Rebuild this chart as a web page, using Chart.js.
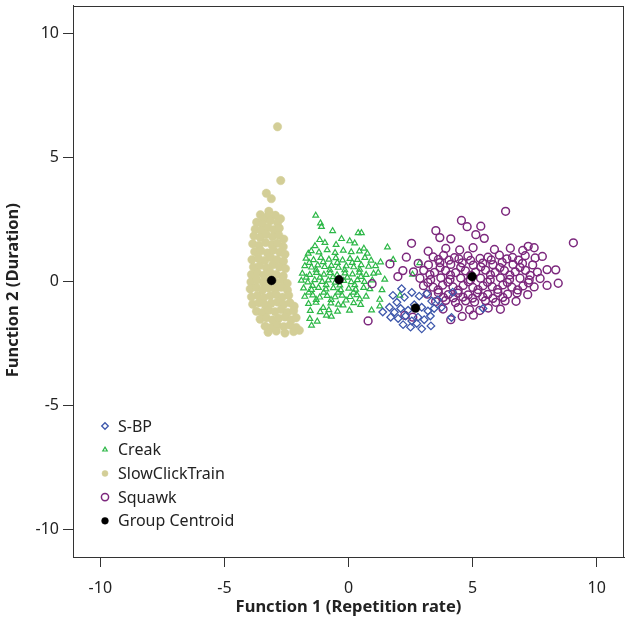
<!DOCTYPE html>
<html>
<head>
<meta charset="utf-8">
<title>Discriminant functions</title>
<script src="https://cdn.jsdelivr.net/npm/chart.js@4.4.0/dist/chart.umd.min.js"></script>
<style>
  html, body { margin: 0; padding: 0; background: #fff; }
  #wrap { width: 632px; height: 627px; }
</style>
</head>
<body>
<div id="wrap"><canvas id="scatter" width="632" height="627"></canvas></div>
<script>
// --- data (Function 1, Function 2) ---
const xTicks = [-10, -5, 0, 5, 10];
const yTicks = [-10, -5, 0, 5, 10];
const xTitle = 'Function 1 (Repetition rate)';
const yTitle = 'Function 2 (Duration)';

const sbpPoints = [
  [1.38,-1.24],[1.79,-0.57],[2.14,-0.30],[1.65,-1.05],[1.95,-0.85],[2.25,-0.65],[2.55,-0.45],[2.85,-0.60],
  [3.15,-0.50],[3.35,-0.80],[1.85,-1.25],[2.10,-1.10],[2.40,-1.17],[2.65,-0.95],[2.95,-1.05],[3.20,-1.20],
  [3.45,-1.10],[1.70,-1.45],[2.00,-1.50],[2.30,-1.40],[2.55,-1.60],[2.80,-1.45],[3.05,-1.55],[3.30,-1.40],
  [2.20,-1.75],[2.50,-1.85],[2.75,-1.70],[3.32,-1.80],[2.95,-1.92],[4.15,-1.46],[4.20,-0.44],[5.42,-1.10],
  [3.75,-1.05],[3.60,-0.75]
];

const creakPoints = [
  [-1.32,2.65],[-1.13,2.34],[-1.09,2.20],[-0.64,2.03],[0.39,1.95],[0.52,1.95],[-1.16,1.67],[-0.28,1.71],
  [0.25,1.53],[1.57,1.37],[-0.95,1.55],[-0.50,1.47],[0.05,1.62],[0.62,1.32],[-1.35,1.42],[-1.62,1.12],
  [-1.50,1.22],[-1.19,1.17],[-0.86,1.26],[-0.54,1.15],[-0.21,1.24],[0.11,1.18],[0.44,1.21],[0.76,1.12],
  [-1.71,0.92],[-1.41,0.86],[-1.11,0.95],[-0.79,0.88],[-0.51,0.94],[-0.24,0.85],[0.06,0.91],[0.36,0.87],
  [0.66,0.95],[0.91,0.84],
  [-1.76,0.62],[-1.49,0.56],[-1.24,0.65],[-0.96,0.58],[-0.69,0.63],[-0.41,0.55],[-0.09,0.61],[0.21,0.57],
  [0.51,0.66],[0.81,0.59],[1.09,0.62],
  [-1.86,0.31],[-1.56,0.26],[-1.29,0.34],[-0.99,0.27],[-0.74,0.33],[-0.46,0.25],[-0.14,0.32],[0.16,0.28],
  [0.44,0.35],[0.71,0.26],[1.01,0.31],
  [-1.90,0.03],[-1.64,-0.04],[-1.36,0.05],[-1.06,-0.02],[-0.81,0.04],[-0.54,-0.05],[-0.19,0.02],[0.11,-0.03],
  [0.36,0.05],[0.64,-0.02],[0.96,0.04],[1.46,0.07],
  [-1.81,-0.28],[-1.49,-0.34],[-1.21,-0.26],[-0.91,-0.32],[-0.61,-0.27],[-0.31,-0.35],[0.01,-0.29],[0.29,-0.33],
  [0.61,-0.26],[0.86,-0.31],
  [-1.76,-0.62],[-1.44,-0.56],[-1.16,-0.65],[-0.86,-0.58],[-0.54,-0.64],[-0.26,-0.57],[0.06,-0.63],[0.34,-0.55],
  [0.71,-0.61],[1.26,-0.74],
  [-1.61,-0.91],[-1.31,-0.86],[-1.02,-1.07],[-0.71,-0.89],[-0.41,-0.94],[-0.22,-0.97],[0.21,-0.88],[0.49,-0.95],
  [0.93,-1.17],
  [-1.54,-1.19],[-1.14,-1.24],[-0.79,-1.16],[-0.44,-1.22],[0.04,-1.18],
  [-1.56,-1.51],[-0.89,-1.38],[-0.69,-1.42],[-1.49,-1.78],[-1.26,-1.62],
  [1.80,0.87],[2.87,0.74],[2.58,0.27],[2.07,-0.57],[1.26,-1.01],[1.29,0.77],[1.20,0.35],[1.35,-0.35],
  [-1.58,0.75],[-1.30,0.45],[-1.02,0.78],[-0.75,0.45],[-0.45,0.75],[-0.15,0.45],[0.15,0.75],[0.45,0.47],
  [-1.70,0.15],[-1.45,-0.18],[-1.15,0.15],[-0.90,-0.15],[-0.62,0.17],[-0.35,-0.16],[-0.05,0.15],[0.25,-0.15],
  [0.50,0.18],[-1.60,-0.45],[-1.30,-0.75],[-1.00,-0.45],[-0.70,-0.75],[-0.42,-0.45],[-0.10,-0.77],[0.20,-0.45],
  [0.45,-0.72]
];

const slowClickPoints = [
  [-2.86,6.23],[-2.73,4.06],[-3.31,3.55],[-3.11,3.33],[-3.21,2.82],
  [-3.55,2.68],[-3.25,2.62],[-2.95,2.66],[-3.42,2.48],
  [-3.70,2.38],[-3.47,2.30],[-3.15,2.44],[-2.86,2.36],[-2.74,2.52],
  [-3.76,2.10],[-3.52,2.04],[-3.24,2.17],[-3.01,2.08],[-2.79,2.14],
  [-3.81,1.83],[-3.56,1.76],[-3.31,1.89],[-3.06,1.79],[-2.81,1.86],[-2.61,1.70],
  [-3.86,1.51],[-3.61,1.44],[-3.34,1.56],[-3.09,1.47],[-2.86,1.53],[-2.63,1.39],
  [-3.78,1.19],[-3.53,1.23],[-3.27,1.14],[-3.03,1.26],[-2.77,1.17],[-2.56,1.09],
  [-3.89,0.87],[-3.63,0.93],[-3.37,0.84],[-3.13,0.96],[-2.88,0.87],[-2.62,0.81],
  [-3.83,0.57],[-3.58,0.63],[-3.31,0.54],[-3.06,0.66],[-2.79,0.57],[-2.54,0.51],
  [-3.91,0.27],[-3.66,0.33],[-3.41,0.24],[-3.16,0.36],[-2.91,0.27],[-2.63,0.21],
  [-3.93,-0.03],[-3.69,0.05],[-3.43,-0.06],[-3.19,0.03],[-2.93,-0.05],[-2.66,0.06],[-2.47,-0.09],
  [-3.96,-0.31],[-3.71,-0.25],[-3.46,-0.35],[-3.21,-0.27],[-2.96,-0.33],[-2.71,-0.24],[-2.46,-0.36],
  [-3.91,-0.63],[-3.67,-0.57],[-3.41,-0.66],[-3.16,-0.59],[-2.91,-0.54],[-2.66,-0.64],[-2.41,-0.57],
  [-3.86,-0.93],[-3.61,-0.87],[-3.36,-0.96],[-3.11,-0.89],[-2.86,-0.84],[-2.61,-0.94],[-2.36,-0.87],[-2.19,-1.01],
  [-3.71,-1.21],[-3.46,-1.26],[-3.21,-1.17],[-2.96,-1.23],[-2.71,-1.14],[-2.46,-1.26],[-2.21,-1.19],
  [-3.56,-1.53],[-3.31,-1.47],[-3.06,-1.56],[-2.81,-1.49],[-2.56,-1.44],[-2.31,-1.56],[-2.11,-1.47],
  [-3.36,-1.81],[-3.11,-1.86],[-2.86,-1.77],[-2.61,-1.83],[-2.36,-1.77],[-2.11,-1.86],
  [-3.24,-2.06],[-2.91,-2.01],[-2.56,-2.09],[-2.21,-2.03],[-1.98,-1.98]
];

const squawkPoints = [
  [6.33,2.82],[4.55,2.45],[4.78,2.20],[5.33,2.22],[5.13,1.88],[5.47,1.73],[9.06,1.55],[7.24,1.41],
  [7.48,1.35],[7.81,1.00],[8.00,0.47],[8.35,0.46],[8.45,-0.08],[8.00,-0.17],[6.75,-0.81],[5.29,-1.18],
  [4.12,1.71],[3.52,2.04],[3.68,1.76],[2.54,1.53],[3.21,1.21],[2.19,0.43],[1.99,0.19],[0.95,-0.10],
  [0.79,-1.60],[2.33,0.97],[1.67,0.70],[2.27,-1.38],[2.59,-1.45],
  [3.92,1.32],[4.48,1.26],[5.02,1.35],[5.88,1.28],[6.52,1.33],[7.02,1.24],
  [3.41,0.98],[3.83,1.04],[4.27,0.95],[4.81,1.02],[5.62,0.97],[6.08,1.05],[6.61,0.96],[7.12,1.03],[7.52,0.94],
  [2.81,0.72],[3.22,0.66],[3.68,0.75],[4.12,0.68],[4.58,0.74],[5.03,0.65],[5.41,0.73],[5.82,0.67],
  [6.19,0.76],[6.63,0.68],[7.01,0.72],[7.42,0.66],
  [2.62,0.38],[3.03,0.44],[3.47,0.36],[3.91,0.43],[4.32,0.35],[4.71,0.42],[5.12,0.37],[5.52,0.45],
  [5.91,0.36],[6.28,0.43],[6.72,0.38],[7.13,0.44],[7.61,0.37],
  [2.88,0.12],[3.31,0.06],[3.72,0.14],[4.09,0.07],[4.52,0.13],[4.91,0.05],[5.32,0.12],[5.71,0.06],
  [6.12,0.14],[6.49,0.07],[6.91,0.12],[7.28,0.05],[7.72,0.11],
  [3.02,-0.18],[3.41,-0.24],[3.79,-0.16],[4.21,-0.23],[4.62,-0.17],[5.01,-0.25],[5.42,-0.18],[5.79,-0.22],
  [6.22,-0.15],[6.58,-0.24],[7.03,-0.19],[7.48,-0.23],
  [3.18,-0.52],[3.62,-0.46],[4.02,-0.54],[4.41,-0.48],[4.82,-0.55],[5.19,-0.47],[5.61,-0.53],[6.02,-0.46],
  [6.41,-0.52],[6.79,-0.47],[7.22,-0.54],
  [3.51,-0.82],[3.92,-0.77],[4.31,-0.86],[4.72,-0.79],[5.08,-0.84],[5.52,-0.78],[5.93,-0.85],[6.31,-0.79],
  [3.81,-1.12],[4.42,-1.06],[4.88,-1.15],[5.63,-1.08],[6.12,-1.13],
  [4.58,-1.42],[5.03,-1.37],[4.12,-1.55],
  [3.62,0.88],[4.05,0.85],[4.45,0.90],[4.92,0.84],[5.30,0.92],[5.75,0.86],[6.38,0.90],[6.85,0.85],
  [3.28,0.27],[3.69,0.55],[4.11,0.25],[4.52,0.56],[4.93,0.24],[5.33,0.58],[5.72,0.26],[6.10,0.55],
  [6.50,0.25],[6.91,0.56],[7.32,0.24],
  [3.20,-0.05],[3.61,-0.35],[4.01,-0.03],[4.42,-0.36],[4.83,-0.02],[5.22,-0.34],[5.60,-0.04],[6.01,-0.33],
  [6.40,-0.05],[6.82,-0.35],[7.25,-0.06],
  [3.82,-0.65],[4.22,-0.67],[4.61,-0.64],[5.00,-0.68],[5.41,-0.63],[5.82,-0.69],[6.22,-0.65]
];

// S-BP, Creak, SlowClickTrain, Squawk
const centroidPoints = [[2.70,-1.08],[-0.38,0.06],[-3.10,0.03],[4.98,0.19]];

// --- theme ---
const FONT = '"Noto Sans", sans-serif';
const AXIS = '#333';
const TEXT = '#222';
const toXY = arr => arr.map(([x, y]) => ({ x, y }));

// legend drawn inside the plot, lower left (like the SPSS output)
const insideLegend = {
  id: 'insideLegend',
  afterDraw(chart) {
    const { ctx, chartArea } = chart;
    const mx = chartArea.left + 32;
    const tx = chartArea.left + 45;
    const y0 = chartArea.bottom - 131;
    const sizes = [3.3, 2.6, 3.0, 3.6, 3.4];
    ctx.save();
    ctx.font = '16px ' + FONT;
    ctx.textBaseline = 'middle';
    ctx.textAlign = 'left';
    chart.data.datasets.forEach((ds, i) => {
      const y = y0 + i * 23.7;
      ctx.fillStyle = ds.backgroundColor;
      ctx.strokeStyle = ds.borderColor;
      ctx.lineWidth = ds.borderWidth;
      Chart.helpers.drawPoint(ctx, { pointStyle: ds.pointStyle, radius: sizes[i], borderWidth: ds.borderWidth, rotation: 0 }, mx, y);
      ctx.fillStyle = TEXT;
      ctx.fillText(ds.label, tx, y + 1);
    });
    ctx.restore();
  }
};

// full box around the plot area + the two axis titles
const frame = {
  id: 'frame',
  afterDraw(chart) {
    const { ctx, chartArea: a } = chart;
    ctx.save();
    ctx.strokeStyle = AXIS;
    ctx.lineWidth = 1;
    ctx.strokeRect(Math.round(a.left) + 0.5, Math.round(a.top) + 0.5,
      Math.round(a.right - a.left) - 1, Math.round(a.bottom - a.top) - 1);
    ctx.font = 'bold 16.5px ' + FONT;
    ctx.fillStyle = TEXT;
    ctx.textAlign = 'center';
    ctx.textBaseline = 'middle';
    ctx.fillText(xTitle, (a.left + a.right) / 2, a.bottom + 50);
    ctx.translate(13, (a.top + a.bottom) / 2 + 9);
    ctx.rotate(-Math.PI / 2);
    ctx.fillText(yTitle, 0, 0);
    ctx.restore();
  }
};

new Chart(document.getElementById('scatter'), {
  type: 'scatter',
  data: {
    datasets: [
      { label: 'S-BP', data: toXY(sbpPoints), pointStyle: 'rectRot', pointRadius: 3.8,
        borderColor: '#3E58AC', backgroundColor: 'rgba(0,0,0,0)', borderWidth: 1.3, order: 2 },
      { label: 'Creak', data: toXY(creakPoints), pointStyle: 'triangle', pointRadius: 3.3,
        borderColor: '#2EB848', backgroundColor: 'rgba(0,0,0,0)', borderWidth: 1.2, order: 3 },
      { label: 'SlowClickTrain', data: toXY(slowClickPoints), pointStyle: 'circle', pointRadius: 4.2,
        borderColor: '#D3CE97', backgroundColor: '#D3CE97', borderWidth: 0.5, order: 3 },
      { label: 'Squawk', data: toXY(squawkPoints), pointStyle: 'circle', pointRadius: 3.9,
        borderColor: '#7C287D', backgroundColor: 'rgba(0,0,0,0)', borderWidth: 1.5, order: 2 },
      { label: 'Group Centroid', data: toXY(centroidPoints), pointStyle: 'circle', pointRadius: 4.4,
        borderColor: '#000', backgroundColor: '#000', borderWidth: 0.5, order: 0 },
    ]
  },
  options: {
    responsive: false,
    animation: false,
    devicePixelRatio: 1,
    layout: { padding: { top: 4, right: 8, left: 0, bottom: 0 } },
    plugins: { legend: { display: false }, tooltip: { enabled: false } },
    scales: {
      x: {
        type: 'linear', min: -11.1, max: 11.1,
        afterBuildTicks: s => { s.ticks = xTicks.map(v => ({ value: v })); },
        afterFit: s => { s.height = 70; s.paddingLeft = 0; s.paddingRight = 0; },
        ticks: { color: TEXT, font: { family: FONT, size: 16 }, padding: 12 },
        grid: { drawOnChartArea: false, drawTicks: true, tickLength: 10, color: AXIS },
        border: { color: AXIS }
      },
      y: {
        type: 'linear', min: -11.12, max: 11.12,
        afterBuildTicks: s => { s.ticks = yTicks.map(v => ({ value: v })); },
        afterFit: s => { s.width = 73; s.paddingTop = 0; s.paddingBottom = 0; },
        ticks: { color: TEXT, font: { family: FONT, size: 16 }, padding: 4 },
        grid: { drawOnChartArea: false, drawTicks: true, tickLength: 10, color: AXIS },
        border: { color: AXIS }
      }
    }
  },
  plugins: [insideLegend, frame]
});
</script>
</body>
</html>
